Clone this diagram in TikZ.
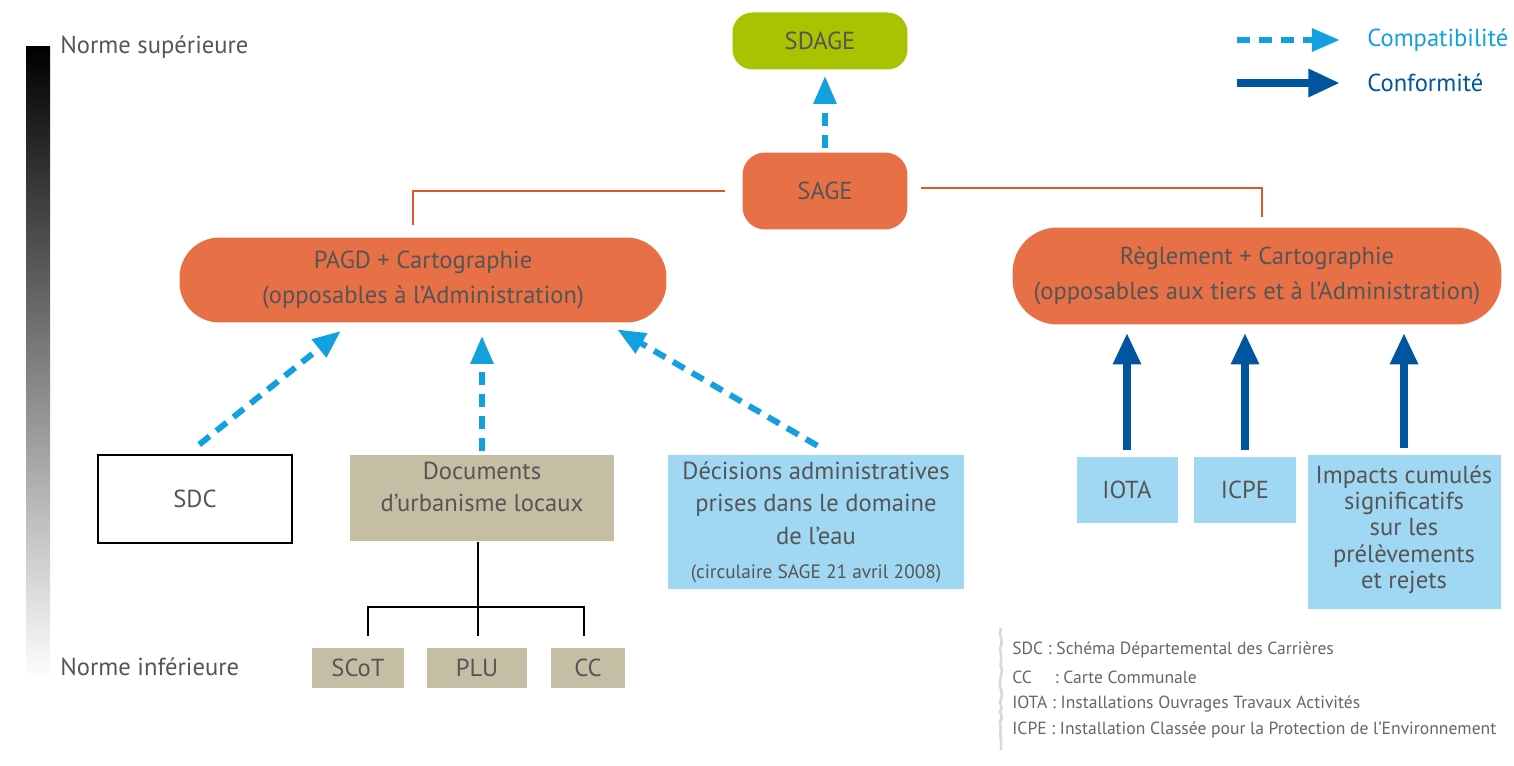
\documentclass[tikz,border=0pt]{standalone}
\usepackage{fontspec}
\setmainfont{PT Sans}
\usetikzlibrary{arrows.meta,decorations.pathmorphing}
\definecolor{sdagegreen}{HTML}{A8C300}
\definecolor{sageorange}{HTML}{E87046}
\definecolor{lineorange}{HTML}{D95A28}
\definecolor{urbatan}{HTML}{C5BEA5}
\definecolor{boxblue}{HTML}{A0D8F3}
\definecolor{compblue}{HTML}{12A0DF}
\definecolor{confblue}{HTML}{00559F}
\definecolor{txtgray}{HTML}{555555}
\begin{document}
\begin{tikzpicture}[x=0.02cm,y=-0.02cm,
    every node/.style={text=txtgray,font=\fontsize{14}{20}\selectfont,align=center,inner sep=0pt},
    blob/.style={fill=sageorange,rounded corners=#1},
    flat/.style={fill=#1},
    compat/.style={draw=compblue,line width=3.4pt,dash pattern=on 7.5pt off 5pt,-{Triangle[length=16pt,width=12.5pt]}},
    conform/.style={draw=confblue,line width=4.5pt,-{Triangle[length=18pt,width=15pt]}},
    link/.style={draw=lineorange,line width=1.3pt},
    tree/.style={draw=black,line width=1.6pt},
    note/.style={anchor=west,font=\fontsize{10}{12}\selectfont,text=txtgray!90}]
  \useasboundingbox (0,0) rectangle (1514,766);
  % scale of norms
  \shade[top color=black,bottom color=white] (26,47) rectangle (50,680);
  \node[anchor=west] (sup) at (60,47) {Norme supérieure};
  \node[anchor=west] (inf) at (60,667) {Norme inférieure};
  % top of the tree
  \node[blob=0.4cm,fill=sdagegreen,minimum width=3.5cm,minimum height=1.14cm] (sdage) at (820,41) {SDAGE};
  \node[blob=0.45cm,minimum width=3.3cm,minimum height=1.54cm] (sage) at (825,191) {SAGE};
  \node[blob=0.8cm,minimum width=9.74cm,minimum height=1.7cm] (pagd) at (423,280) {PAGD + Cartographie\\(opposables à l’Administration)};
  \node[blob=0.9cm,minimum width=9.78cm,minimum height=1.94cm] (regl) at (1257,276) {Règlement + Cartographie\\(opposables aux tiers et à l’Administration)};
  \draw[compat,shorten <=0.08cm,shorten >=0.12cm] (sage.north) -- (sage.north |- sdage.south);
  \draw[link,shorten <=0.34cm,shorten >=0.24cm] (sage.west) -| ([xshift=-0.2cm]pagd.north);% left branch
  \draw[link,shorten <=0.26cm,shorten >=0.2cm] ([yshift=0.06cm]sage.east) -| ([xshift=0.1cm]regl.north);% right branch
  % left side
  \node[draw=black,line width=1.2pt,minimum width=3.88cm,minimum height=1.76cm] (sdc) at (195,499) {SDC};
  \node[flat=urbatan,minimum width=5.28cm,minimum height=1.74cm,text depth=0.45cm,font=\fontsize{14}{18.5}\selectfont] (urba) at (482,498) {Documents\\d’urbanisme locaux};
  \node[flat=boxblue,minimum width=5.94cm,minimum height=2.7cm,font=\fontsize{14}{18.5}\selectfont] (deci) at (816,522) {Décisions administratives\\prises dans le domaine\\de l’eau\\[1pt]{\fontsize{11}{14}\selectfont(circulaire SAGE 21 avril 2008)}};
  \draw[compat,shorten <=0.3cm,shorten >=0.26cm] ([xshift=-0.15cm]sdc.north) -- ([xshift=-1.44cm]pagd.south);
  \draw[compat,shorten <=0.06cm,shorten >=0.26cm] (urba.north) -- (urba.north |- pagd.south);
  \draw[compat,shorten <=0.34cm,shorten >=0.26cm] ([xshift=0.32cm]deci.north) -- ([xshift=3.66cm]pagd.south);
  \node[flat=urbatan,minimum width=1.86cm,minimum height=0.82cm] (scot) at (358,668) {SCoT};
  \node[flat=urbatan,minimum width=2.02cm,minimum height=0.82cm] (plu) at (477,668) {PLU};
  \node[flat=urbatan,minimum width=1.48cm,minimum height=0.82cm] (cc) at (588,668) {CC};
  \coordinate (fork) at (478,607);
  \draw[tree,shorten >=0.22cm] ([xshift=-0.08cm]urba.south) -- ([xshift=-0.08cm]urba.south |- plu.north);
  \draw[tree] ([xshift=0.2cm,yshift=0.22cm]scot.north) |- (fork) -| ([xshift=-0.08cm,yshift=0.22cm]cc.north);
  % right side
  \node[flat=boxblue,minimum width=2.02cm,minimum height=1.34cm] (iota) at (1127,490) {IOTA};
  \node[flat=boxblue,minimum width=2.04cm,minimum height=1.34cm] (icpe) at (1245,490) {ICPE};
  \node[flat=boxblue,minimum width=3.86cm,minimum height=3.1cm,text depth=0.2cm,font=\fontsize{14}{15}\selectfont] (impa) at (1404,532) {Impacts cumulés\\significatifs\\sur les\\prélèvements\\et rejets};
  \draw[conform,shorten <=0.12cm,shorten >=0.16cm] (iota.north) -- (iota.north |- regl.south);
  \draw[conform,shorten <=0.12cm,shorten >=0.16cm] (icpe.north) -- (icpe.north |- regl.south);
  \draw[conform,shorten <=0.12cm,shorten >=0.16cm] (impa.north) -- (impa.north |- regl.south);
  % legend
  \coordinate (cpa) at (1237,40); \coordinate (cpb) at (1340,40);
  \coordinate (cfa) at (1237,83); \coordinate (cfb) at (1340,83);
  \draw[compat] (cpa) -- (cpb);
  \draw[conform] (cfa) -- (cfb);
  \node[anchor=west,text=compblue] (cptxt) at (1367,40) {Compatibilité};
  \node[anchor=west,text=confblue] (cftxt) at (1367,83) {Conformité};
  % abbreviations
  \draw[gray!30,line width=1.5pt,decorate,decoration={random steps,segment length=3pt,amplitude=0.7pt}] (1001,628) -- (1001,750);
  \node[note] (n1) at (1012,650) {SDC : Schéma Départemental des Carrières};
  \node[note] (n2) at (1012,677) {CC\hspace{1.3em}: Carte Communale};
  \node[note] (n3) at (1012,704) {IOTA : Installations Ouvrages Travaux Activités};
  \node[note] (n4) at (1012,730) {ICPE : Installation Classée pour la Protection de l’Environnement};
\end{tikzpicture}
\end{document}
